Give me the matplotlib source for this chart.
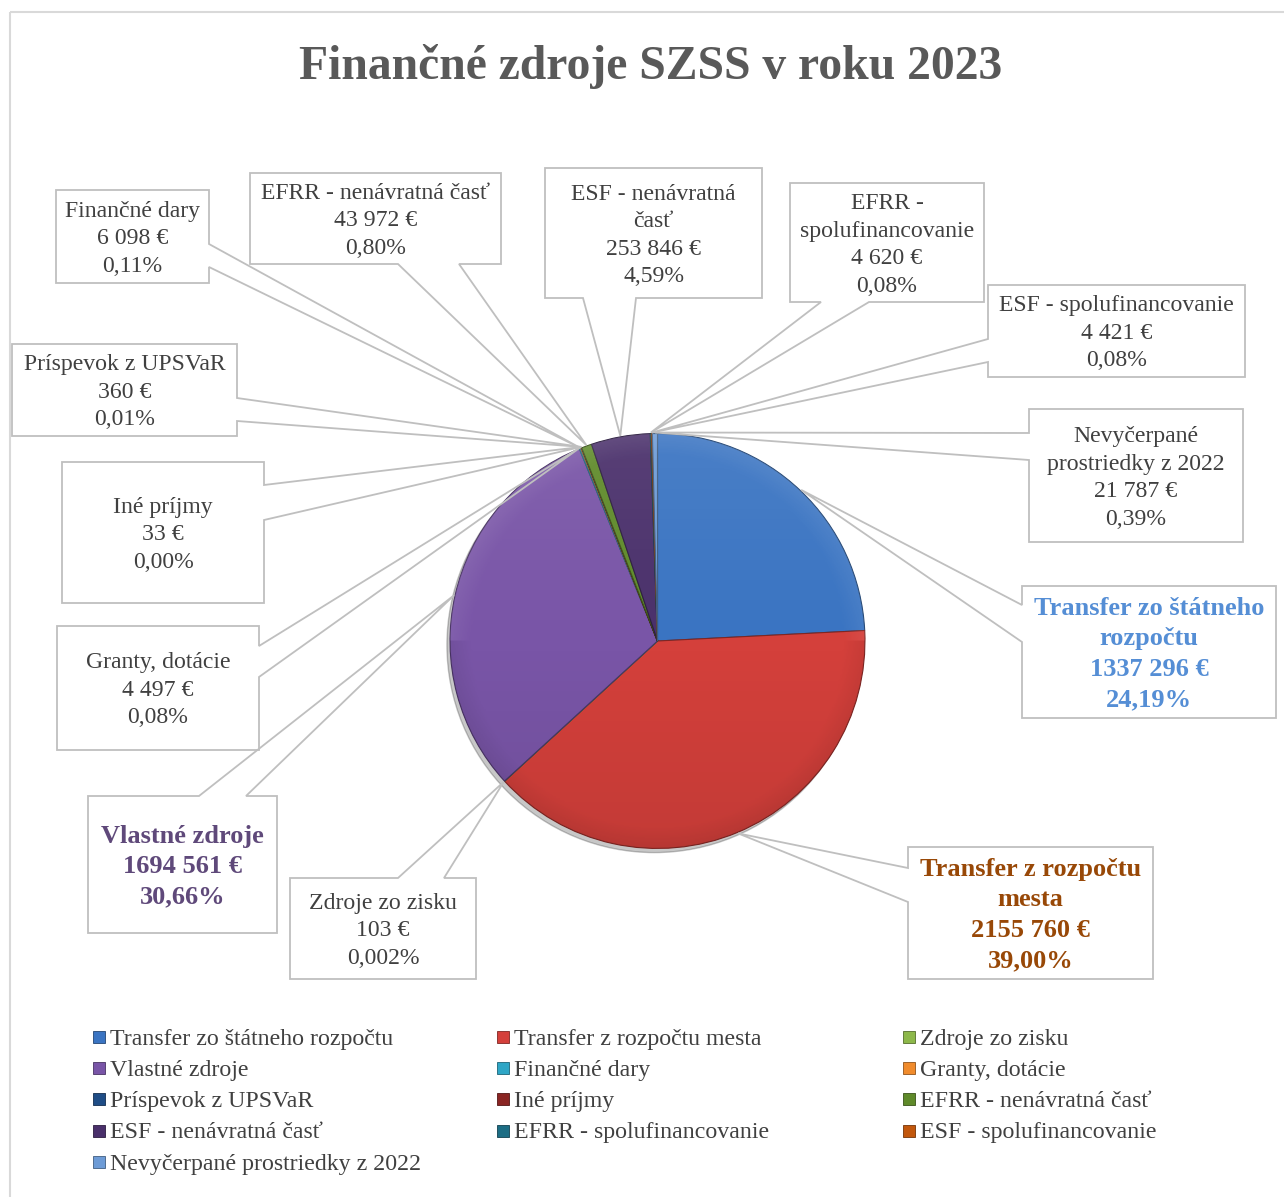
import numpy as np
import matplotlib
matplotlib.use('Agg')
import matplotlib.pyplot as plt
from matplotlib.patches import Polygon, Rectangle, Circle

plt.rcParams['font.family'] = ['Liberation Serif', 'DejaVu Serif']

# ── Data ──────────────────────────────────────────────────────────────────────
categories = ['Transfer zo štátneho rozpočtu', 'Transfer z rozpočtu mesta', 'Zdroje zo zisku',
              'Vlastné zdroje', 'Finančné dary', 'Granty, dotácie', 'Príspevok z UPSVaR',
              'Iné príjmy', 'EFRR - nenávratná časť', 'ESF - nenávratná časť',
              'EFRR - spolufinancovanie', 'ESF - spolufinancovanie',
              'Nevyčerpané prostriedky z 2022']
values = [1337296, 2155760, 103, 1694561, 6098, 4497, 360, 33, 43972, 253846, 4620, 4421, 21787]
pct_decimals = [2, 2, 3, 2, 2, 2, 2, 2, 2, 2, 2, 2, 2]
label_names = ['Transfer zo štátneho\nrozpočtu', 'Transfer z rozpočtu\nmesta', 'Zdroje zo zisku',
               'Vlastné zdroje', 'Finančné dary', 'Granty, dotácie', 'Príspevok z UPSVaR',
               'Iné príjmy', 'EFRR - nenávratná časť', 'ESF - nenávratná\nčasť',
               'EFRR -\nspolufinancovanie', 'ESF - spolufinancovanie',
               'Nevyčerpané\nprostriedky z 2022']

colors = ['#3a74c2', '#d4403b', '#8db84a', '#7955a7', '#2ea6c6', '#f08b2c', '#1f4d86',
          '#8a2523', '#5f8a2a', '#4a306b', '#1c6d84', '#c2570c', '#6d9bd6']
bold_colors = {0: '#558ed5', 1: '#984807', 3: '#5f497a'}

# ── Canvas (pixel coordinates, y down) ────────────────────────────────────────
W, H = 1284, 1197
fig = plt.figure(figsize=(W / 100, H / 100), dpi=100)
fig.patch.set_facecolor('white')

cx, cy, R = 657.5, 641, 208.5
axp = fig.add_axes([(cx - R) / W, 1 - (cy + R) / H, 2 * R / W, 2 * R / H])
ov = fig.add_axes([0, 0, 1, 1], zorder=2)
ov.set_xlim(0, W)
ov.set_ylim(H, 0)
ov.axis('off')
ov.patch.set_visible(False)

# ── Pie ───────────────────────────────────────────────────────────────────────
axp.add_patch(Circle((-0.015, -0.02), 1.0, color='#000000', alpha=0.22,
                     zorder=0, clip_on=False))
wedges, _ = axp.pie(values, colors=colors, startangle=90, counterclock=False,
                    radius=1, wedgeprops=dict(linewidth=0.8))
for w, c in zip(wedges, colors):
    rgb = np.array(matplotlib.colors.to_rgb(c)) * 0.6
    w.set_edgecolor(rgb)

# soft shading over the pie (light top, darker bottom)
yy, xx = np.mgrid[-1:1:200j, -1:1:200j]
shade = np.zeros((200, 200, 4))
t = (yy + 1) / 2
shade[..., :3] = np.where(t[..., None] > 0.5, 1.0, 0.0)
shade[..., 3] = np.abs(t - 0.5) * 0.16
rr = np.hypot(xx, yy)
shade[..., 3] += np.clip((rr - 0.9) / 0.1, 0, 1) * 0.06
img = axp.imshow(shade, extent=(-1, 1, -1, 1), origin='lower', zorder=3)
img.set_clip_path(Circle((0, 0), 1.0, transform=axp.transData))

axp.set_xlim(-1.005, 1.005)
axp.set_ylim(-1.005, 1.005)
axp.set_aspect('equal')
axp.axis('off')

# ── Border & title ────────────────────────────────────────────────────────────
ov.add_patch(Rectangle((10, 12), 1290, 1200, fill=False, edgecolor='#d9d9d9', lw=1.5))
ov.text(651, 79, 'Finančné zdroje SZSS v roku 2023', fontsize=34.3, fontweight='bold',
        ha='center', va='baseline', color='#595959')

# ── Callouts ──────────────────────────────────────────────────────────────────
callouts = [
    ((1022, 586, 1276, 718), 'left', (605, 642)),
    ((908, 847, 1153, 979), 'left', (868, 902)),
    ((290, 878, 476, 979), 'top', (398, 444)),
    ((88, 796, 277, 933), 'top', (199, 246)),
    ((56, 190, 209, 283), 'right', (244, 267)),
    ((57, 626, 259, 750), 'right', (646, 677)),
    ((12, 344, 237, 436), 'right', (398, 421)),
    ((62, 462, 264, 603), 'right', (485, 520)),
    ((250, 173, 501, 264), 'bottom', (398, 459)),
    ((545, 168, 762, 298), 'bottom', (583, 636)),
    ((790, 183, 984, 302), 'bottom', (821, 869)),
    ((988, 285, 1245, 377), 'left', (339, 362)),
    ((1029, 409, 1243, 542), 'left', (433, 460)),
]


def fmt_eur(v):
    return f'{v // 1000} {v % 1000:03d} €' if v >= 1000 else f'{v} €'


def callout_outline(box, side, ab, tip):
    x0, y0, x1, y1 = box
    a, b = ab
    if side == 'top':
        pts = [(x0, y0), (a, y0), tip, (b, y0), (x1, y0), (x1, y1), (x0, y1)]
    elif side == 'right':
        pts = [(x0, y0), (x1, y0), (x1, a), tip, (x1, b), (x1, y1), (x0, y1)]
    elif side == 'bottom':
        pts = [(x0, y0), (x1, y0), (x1, y1), (b, y1), tip, (a, y1), (x0, y1)]
    else:
        pts = [(x0, y0), (x1, y0), (x1, y1), (x0, y1), (x0, b), tip, (x0, a)]
    return pts


total = sum(values)
for i, (w, (box, side, ab)) in enumerate(zip(wedges, callouts)):
    mid = np.deg2rad((w.theta1 + w.theta2) / 2)
    tip = (cx + R * np.cos(mid), cy - R * np.sin(mid))
    x0, y0, x1, y1 = box
    ov.add_patch(Rectangle((x0, y0), x1 - x0, y1 - y0, facecolor='white',
                           edgecolor='none', zorder=3))
    ov.add_patch(Polygon(callout_outline(box, side, ab, tip), closed=True, fill=False,
                         edgecolor='#bfbfbf', lw=1.3, joinstyle='miter', zorder=4))
    pct = f'{100 * values[i] / total:.{pct_decimals[i]}f}%'.replace('.', ',')
    lines = label_names[i].split('\n') + [fmt_eur(values[i]), pct]
    bold = i in bold_colors
    fs = 19 if bold else 17.1
    step = 30.5 if bold else 27.5
    ymid = (y0 + y1) / 2
    xmid = (x0 + x1) / 2
    for k, s in enumerate(lines):
        yc = ymid + (k - (len(lines) - 1) / 2) * step
        ov.text(xmid, yc + 0.33 * fs / 0.72, s, fontsize=fs, ha='center', va='baseline',
                fontweight='bold' if bold else 'normal',
                color=bold_colors.get(i, '#404040'), zorder=5)

# ── Legend (row-major, 3 columns) ─────────────────────────────────────────────
col_x = [93, 497, 903]
row_y0, row_step = 1037, 31.2
for i, (name, w) in enumerate(zip(categories, wedges)):
    r, c = divmod(i, 3)
    x = col_x[c]
    y = row_y0 + r * row_step
    ov.add_patch(Rectangle((x, y - 6), 12, 12, facecolor=w.get_facecolor(),
                           edgecolor=w.get_edgecolor(), lw=0.6, zorder=3))
    ov.text(x + 17, y + 0.33 * 17.2 / 0.72, name, fontsize=17.2, ha='left',
            va='baseline', color='#404040', zorder=5)

fig.savefig('out.png', dpi=100, facecolor='white')
